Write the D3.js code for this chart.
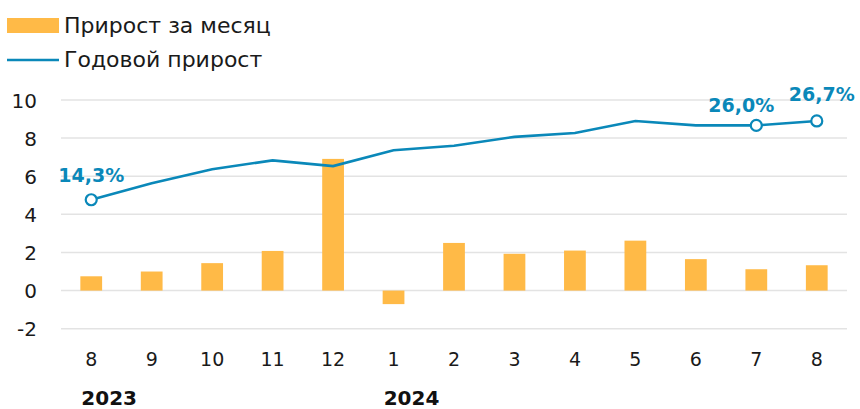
<!DOCTYPE html>
<html><head><meta charset="utf-8">
<script src="https://cdn.jsdelivr.net/npm/d3@7"></script>
<style>body{margin:0;background:#fff}svg{display:block}text{font-family:"DejaVu Sans",sans-serif}</style>
</head><body><svg id="c" width="860" height="409"></svg>
<script>
const categories = ["8","9","10","11","12","1","2","3","4","5","6","7","8"];
const monthly = [0.75,1.0,1.44,2.08,6.91,-0.71,2.5,1.93,2.1,2.62,1.65,1.12,1.33];
const annual = [14.3,16.9,19.1,20.5,19.6,22.1,22.8,24.2,24.8,26.7,26.0,26.0,26.7];
const annualLabels = ["14,3%",null,null,null,null,null,null,null,null,null,null,"26,0%","26,7%"];
const yTicks = [-2,0,2,4,6,8,10];
const years = [{label:"2023", at:0},{label:"2024", at:5}];
const legendItems = ["Прирост за месяц","Годовой прирост"];

const orange="#FFBA47", blue="#0A88B9";
const svg=d3.select("#c");
const keys=categories.map((d,i)=>i);
const x=d3.scaleBand().domain(keys).range([61,847]).paddingInner(0.64).paddingOuter(0.32);
const y=d3.scaleLinear().domain([-2,10]).range([328.7,100]);
const y2=d3.scaleLinear().domain([-6,30]).range([328.7,100]);
const cx=i=>x(i)+x.bandwidth()/2;

// grid
svg.append("g").selectAll("line").data(yTicks).join("line")
 .attr("x1",61).attr("x2",847).attr("y1",d=>y(d)).attr("y2",d=>y(d))
 .attr("stroke","#E3E3E3").attr("stroke-width",1.5);
// y axis labels
const ya=svg.append("g").attr("transform","translate(37,0)").call(d3.axisLeft(y).tickValues(yTicks).tickFormat(d=>String(d)).tickSize(0).tickPadding(0));
ya.select(".domain").remove();
ya.selectAll("text").attr("font-size",20).attr("fill","#1a1a1a").attr("dy","0.36em");

// bars
svg.append("g").selectAll("rect").data(monthly).join("rect")
 .attr("x",(d,i)=>x(i)).attr("width",x.bandwidth())
 .attr("y",d=>y(Math.max(0,d))).attr("height",d=>Math.abs(y(d)-y(0)))
 .attr("fill",orange);

// line
svg.append("path").datum(annual).attr("fill","none").attr("stroke",blue).attr("stroke-width",2.6)
 .attr("d",d3.line().x((d,i)=>cx(i)).y(d=>y2(d)));
svg.append("g").selectAll("circle").data(annual.map((v,i)=>({v,i,l:annualLabels[i]})).filter(d=>d.l))
 .join("circle").attr("cx",d=>cx(d.i)).attr("cy",d=>y2(d.v)).attr("r",5.5)
 .attr("fill","#fff").attr("stroke",blue).attr("stroke-width",2.2);
const labOff={0:[0,-18],11:[-15,-13],12:[5,-20]};
svg.append("g").selectAll("text").data(annual.map((v,i)=>({v,i,l:annualLabels[i]})).filter(d=>d.l))
 .join("text").attr("x",d=>cx(d.i)+labOff[d.i][0]).attr("y",d=>y2(d.v)+labOff[d.i][1])
 .attr("text-anchor","middle").attr("font-size",19).attr("font-weight",700).attr("fill",blue).text(d=>d.l);

// x axis
const xa=svg.append("g").attr("transform","translate(0,349)").call(d3.axisBottom(x).tickFormat(i=>categories[i]).tickSize(0).tickPadding(0));
xa.select(".domain").remove();
xa.selectAll("text").attr("font-size",19).attr("fill","#1a1a1a").attr("dy","0.9em");
svg.append("g").selectAll("text").data(years).join("text")
 .attr("x",d=>x(d.at)+1).attr("y",405).attr("font-size",20).attr("font-weight",700).attr("fill","#111").text(d=>d.label);

// legend
const lg=svg.append("g");
lg.append("rect").attr("x",7).attr("y",18).attr("width",52).attr("height",15).attr("fill",orange);
lg.append("line").attr("x1",7).attr("x2",59).attr("y1",60).attr("y2",60).attr("stroke",blue).attr("stroke-width",2.6);
lg.selectAll("text").data(legendItems).join("text").attr("x",64).attr("y",(d,i)=>i?67:33)
 .attr("font-size",22).attr("fill","#1a1a1a").text(d=>d);
</script></body></html>
